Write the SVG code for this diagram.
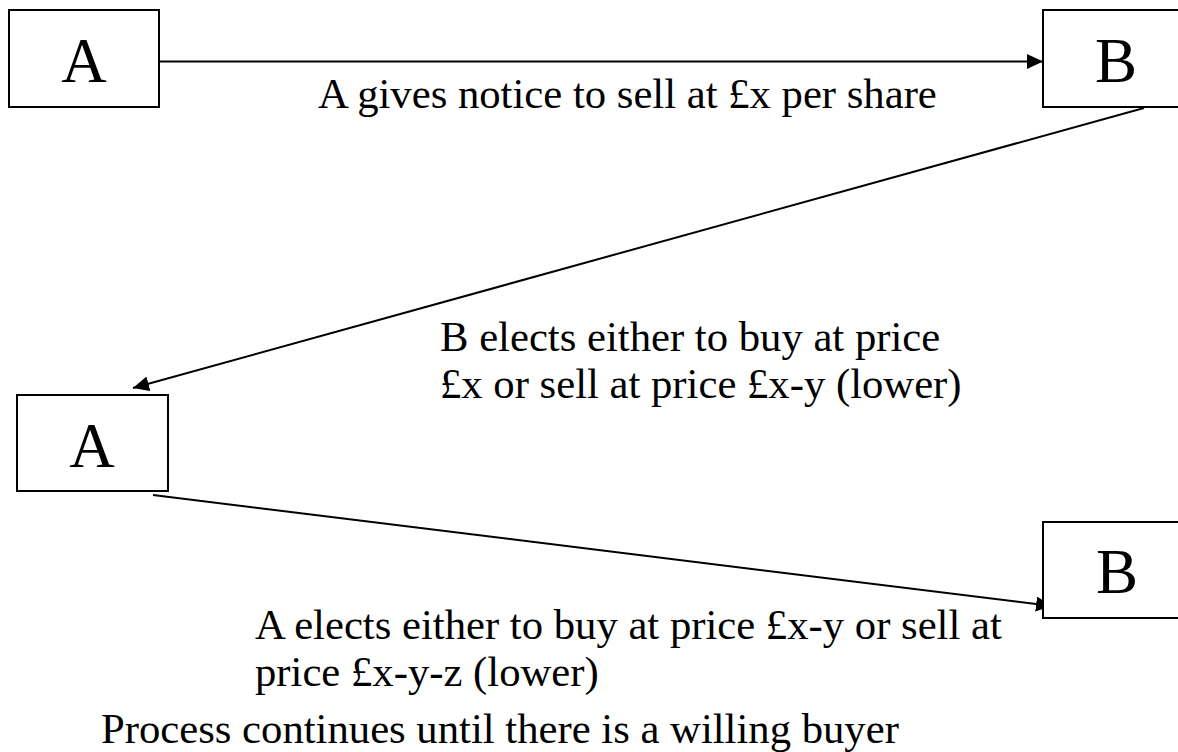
<svg xmlns="http://www.w3.org/2000/svg" width="1178" height="752" viewBox="0 0 1178 752">
<defs>
<style>
.box{fill:#fff;stroke:#000;stroke-width:2}
.lbl{font-family:"Liberation Serif","Times New Roman",serif;font-size:63px;fill:#000;text-anchor:middle}
.t{font-family:"Liberation Serif","Times New Roman",serif;font-size:42.7px;fill:#000}
.c{stroke:#000;stroke-width:2;fill:none;marker-end:url(#ah)}
</style>
<marker id="ah" viewBox="0 0 10 10" refX="10" refY="5" markerWidth="8" markerHeight="7.5" orient="auto" markerUnits="strokeWidth" preserveAspectRatio="none">
<path d="M0,0 L10,5 L0,10 z" fill="#000"/>
</marker>
</defs>
<rect width="1178" height="752" fill="#fff"/>
<g id="connectors">
<line class="c" x1="159" y1="61.5" x2="1043" y2="61.5"/>
<line class="c" x1="1144" y1="108" x2="133" y2="388"/>
<line class="c" x1="153" y1="495" x2="1052" y2="606"/>
</g>
<g id="nodeA1"><rect class="box" x="9" y="10" width="150" height="97"/><text class="lbl" x="84" y="82">A</text></g>
<g id="nodeB1"><rect class="box" x="1043" y="10" width="150" height="97"/><text class="lbl" x="1116" y="82">B</text></g>
<g id="nodeA2"><rect class="box" x="17" y="395" width="151" height="96"/><text class="lbl" x="92" y="467">A</text></g>
<g id="nodeB2"><rect class="box" x="1043" y="522" width="150" height="96"/><text class="lbl" x="1117" y="593">B</text></g>
<g id="labels">
<text class="t" x="318" y="108">A gives notice to sell at £x per share</text>
<text class="t" x="440" y="351">B elects either to buy at price</text>
<text class="t" x="440" y="398">£x or sell at price £x-y (lower)</text>
<text class="t" x="255" y="639">A elects either to buy at price £x-y or sell at</text>
<text class="t" x="255" y="686">price £x-y-z (lower)</text>
<text class="t" x="101" y="743">Process continues until there is a willing buyer</text>
</g>
</svg>
